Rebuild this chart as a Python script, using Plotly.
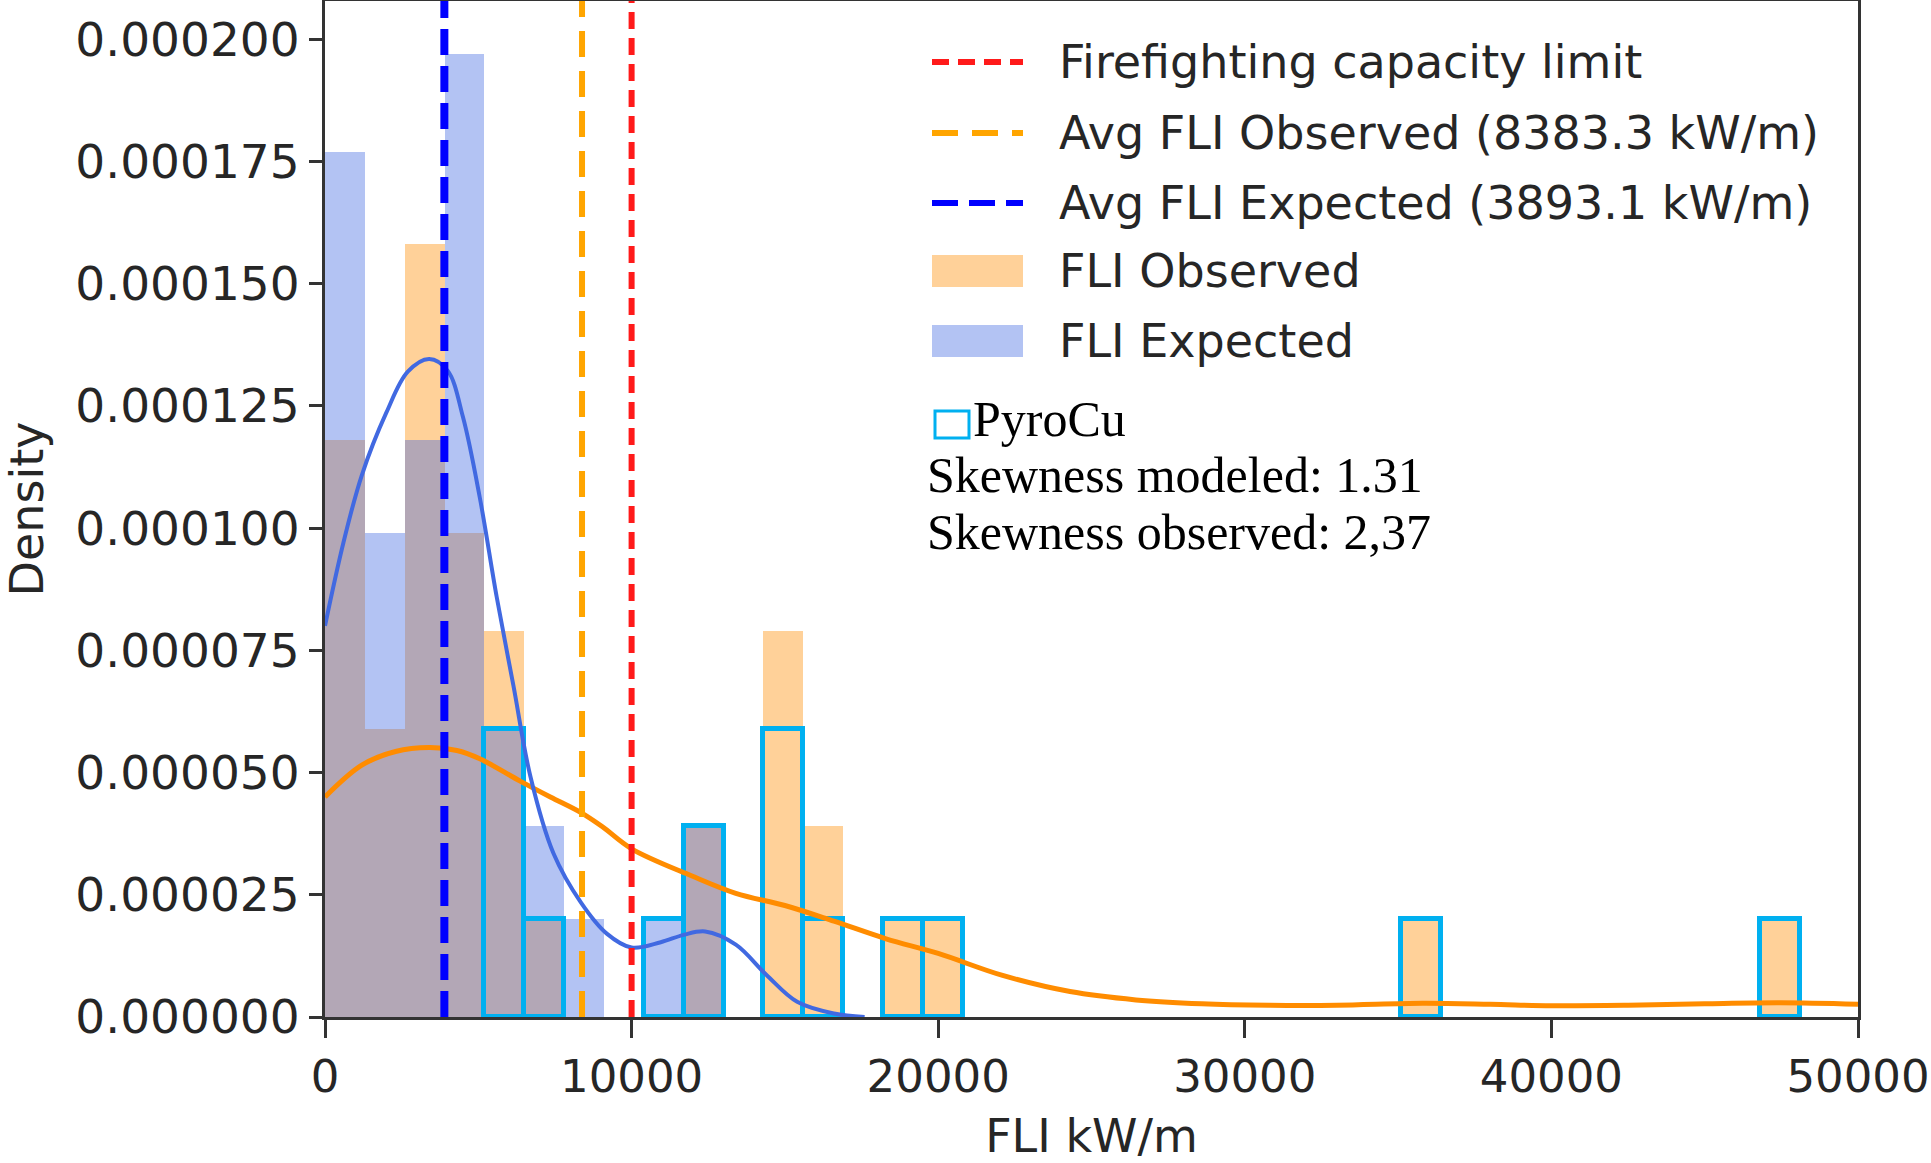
# FLI histogram: observed vs expected fireline intensity, PyroCu bins outlined
import plotly.graph_objects as go

# DATA
bin_width = 1300
obs_left = [i * bin_width for i in range(37)]
obs_density = [0.000118, 0.000059, 0.000158, 0.000099, 0.000079, 0.000020, 0, 0, 0, 0.000039,
               0, 0.000079, 0.000039, 0, 0.000020, 0.000020, 0, 0, 0, 0,
               0, 0, 0, 0, 0, 0, 0, 0.000020, 0, 0,
               0, 0, 0, 0, 0, 0, 0.000020]
exp_left = [i * bin_width for i in range(10)]
exp_density = [0.000177, 0.000099, 0.000118, 0.000197, 0.000059, 0.000039, 0.000020, 0, 0.000020, 0.000039]

pyrocu_left = [5200, 6500, 10400, 11700, 14300, 15600, 18200, 19500, 35100, 46800]
pyrocu_density = [0.000059, 0.000020, 0.000020, 0.000039, 0.000059, 0.000020, 0.000020, 0.000020, 0.000020, 0.000020]

kde_exp_x = [0, 600, 1200, 2000, 2700, 3400, 4000, 4500, 5050, 5600, 6150, 6700, 7450, 8350,
             9200, 10000, 10950, 11700, 12400, 13400, 14400, 15400, 16600, 17600]
kde_exp_y = [0.0000800, 0.0000970, 0.0001108, 0.0001236, 0.0001320, 0.0001346, 0.0001322, 0.0001227,
             0.0001062, 0.0000859, 0.0000676, 0.0000492, 0.0000335, 0.0000234, 0.0000170, 0.0000142,
             0.0000153, 0.0000168, 0.0000175, 0.0000148, 0.0000086, 0.0000031, 0.0000007, 0.0]

kde_obs_x = [0, 1200, 2300, 3400, 4300, 5050, 6350, 7350, 8350, 9050, 10000, 11950, 13400, 15000,
             16600, 18300, 20000, 22100, 24300, 26450, 28600, 30800, 33000, 35800, 38000, 40000,
             42500, 45000, 47450, 50000]
kde_obs_y = [0.0000450, 0.0000515, 0.0000543, 0.0000551, 0.0000545, 0.0000528, 0.0000483, 0.0000450,
             0.0000418, 0.0000389, 0.0000344, 0.0000289, 0.0000253, 0.0000228, 0.0000196, 0.0000160,
             0.0000130, 0.0000085, 0.0000052, 0.0000035, 0.0000027, 0.0000024, 0.0000024, 0.0000028,
             0.0000026, 0.0000023, 0.0000024, 0.0000027, 0.0000029, 0.0000026]

capacity_limit = 10000
avg_observed = 8383.3
avg_expected = 3893.1

legend_labels = ['Firefighting capacity limit',
                 'Avg FLI Observed (8383.3 kW/m)',
                 'Avg FLI Expected (3893.1 kW/m)',
                 'FLI Observed',
                 'FLI Expected']
note_lines = ['PyroCu', 'Skewness modeled: 1.31', 'Skewness observed: 2,37']

# STYLE
ORANGE_FILL = 'rgba(255,140,0,0.4)'
BLUE_FILL = 'rgba(65,105,225,0.4)'
CYAN = '#00B0F0'
TXT = '#262626'
SANS = 'DejaVu Sans'
SERIF = 'Liberation Serif'

W, H = 1931, 1163
L, R, T, B = 325, 1858, 1, 1017


def px(x):
    return (x - L) / (R - L)


def py(y):
    return (B - y) / (B - T)


# PLOT
fig = go.Figure()
fig.add_trace(go.Bar(x=obs_left, y=obs_density, width=bin_width, offset=0,
                     marker=dict(color=ORANGE_FILL, line=dict(width=0)), showlegend=False))
fig.add_trace(go.Bar(x=exp_left, y=exp_density, width=bin_width, offset=0,
                     marker=dict(color=BLUE_FILL, line=dict(width=0)), showlegend=False))
fig.add_trace(go.Bar(x=pyrocu_left, y=pyrocu_density, width=bin_width, offset=0,
                     marker=dict(color='rgba(0,0,0,0)', line=dict(color=CYAN, width=5)),
                     showlegend=False))
fig.add_trace(go.Scatter(x=kde_obs_x, y=kde_obs_y, mode='lines', line=dict(color='#FF8C00', width=5, shape='spline'),
                         showlegend=False))
fig.add_trace(go.Scatter(x=kde_exp_x, y=kde_exp_y, mode='lines', line=dict(color='#4169E1', width=4, shape='spline'),
                         showlegend=False))

fig.add_vline(x=avg_expected, line=dict(color='#0000FF', width=8, dash='26px,11px'))
fig.add_vline(x=avg_observed, line=dict(color='#FFA500', width=6, dash='26px,14px'))
fig.add_vline(x=capacity_limit, line=dict(color='#FF1A1A', width=6, dash='17px,9px'))

# LEGEND (drawn by hand to get matplotlib-sized handles)
rows = [62, 133, 203, 271, 341]
line_styles = [('#FF1A1A', '17px,9px'), ('#FFA500', '26px,14px'), ('#0000FF', '26px,11px')]
for (col, dash), yy in zip(line_styles, rows[:3]):
    fig.add_shape(type='line', xref='paper', yref='paper', x0=px(932), x1=px(1023), y0=py(yy), y1=py(yy),
                  line=dict(color=col, width=6, dash=dash))
for col, yy in zip([ORANGE_FILL, BLUE_FILL], rows[3:]):
    fig.add_shape(type='rect', xref='paper', yref='paper', x0=px(932), x1=px(1023), y0=py(yy - 16), y1=py(yy + 16),
                  fillcolor=col, line=dict(width=0))
for label, yy in zip(legend_labels, rows):
    fig.add_annotation(text=label, xref='paper', yref='paper', x=px(1057), y=py(yy), xanchor='left', yanchor='middle',
                       showarrow=False, font=dict(family=SANS, size=46, color=TXT))

# PyroCu note
fig.add_shape(type='rect', xref='paper', yref='paper', x0=px(935), x1=px(969), y0=py(438), y1=py(411),
              line=dict(color=CYAN, width=3))
fig.add_annotation(text=note_lines[0], xref='paper', yref='paper', x=px(971), y=py(419), xanchor='left',
                   yanchor='middle', showarrow=False, font=dict(family=SERIF, size=50, color='black'))
for txt, yy in zip(note_lines[1:], [475, 532]):
    fig.add_annotation(text=txt, xref='paper', yref='paper', x=px(925), y=py(yy), xanchor='left', yanchor='middle',
                       showarrow=False, font=dict(family=SERIF, size=50, color='black'))

# FORMAT
axis_common = dict(showline=True, mirror=True, linecolor='#333333', linewidth=3, showgrid=False, zeroline=False,
                   ticks='outside', tickwidth=3, tickcolor='#333333')
fig.update_xaxes(range=[0, 50000], tick0=0, dtick=10000, tickformat='d', ticklen=18,
                 tickfont=dict(family=SANS, size=45, color=TXT),
                 title=dict(text='FLI kW/m', font=dict(family=SANS, size=46, color=TXT), standoff=20),
                 **axis_common)
fig.update_yaxes(range=[0, 0.0002078], tick0=0, dtick=0.000025, tickformat='.6f', ticklen=13,
                 tickfont=dict(family=SANS, size=47, color=TXT),
                 title=dict(text='Density', font=dict(family=SANS, size=46, color=TXT), standoff=20),
                 **axis_common)
fig.update_layout(width=W, height=H, barmode='overlay', bargap=0, plot_bgcolor='white', paper_bgcolor='white',
                  margin=dict(l=L, r=W - R, t=T, b=H - B, autoexpand=False), showlegend=False)

# body has a default 8px margin in the browser; drop it so the figure sits at the page corner
fig.write_html("out.html", config={'displayModeBar': False},
               post_script="document.body.style.margin='0px';")
